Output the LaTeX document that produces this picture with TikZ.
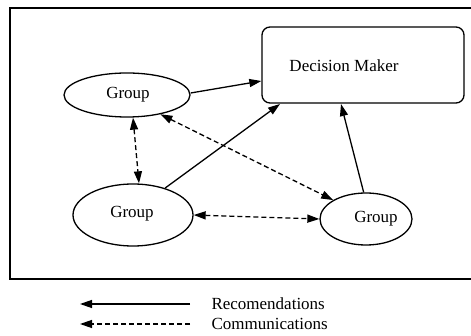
\documentclass[tikz,border=0pt]{standalone}
\usepackage{fontspec}
\setmainfont{Liberation Serif}
\usetikzlibrary{arrows.meta,shapes.geometric}
\begin{document}
\begin{tikzpicture}[x=1pt,y=-1pt,
  every node/.style={font=\fontsize{17}{20}\selectfont},
  grp/.style={draw,ellipse,line width=1.3pt,inner sep=0pt},
  rec/.style={line width=1.3pt,-{Triangle[length=12pt,width=8pt]}},
  com/.style={line width=1.3pt,dash pattern=on 5pt off 3pt,{Triangle[length=12pt,width=8pt]}-{Triangle[length=12pt,width=8pt]}},
  coml/.style={line width=1.3pt,dash pattern=on 5pt off 3pt,-{Triangle[length=12pt,width=8pt]}}]
\useasboundingbox (0,0) rectangle (471,336);
\draw[line width=1.5pt] (480,8) -- (10,8) -- (10,279) -- (480,279);
\node[draw,rounded corners=8pt,line width=1.3pt,minimum width=202pt,minimum height=76pt] (dm) at (363,65) {};
\node (dmt) at (344,66) {Decision Maker};
\node[grp,minimum width=126pt,minimum height=44pt] (g1) at (127,95) {};
\node (g1t) at (128,95) {Group};
\node[grp,minimum width=120pt,minimum height=62pt] (g2) at (133,215) {};
\node (g2t) at (132,214) {Group};
\node[grp,minimum width=92pt,minimum height=52pt] (g3) at (366,219) {};
\node (g3t) at (376,219) {Group};
\draw[rec] (g1.east) ++(0,-2) -- (dm.west |- 0,81);
\draw[rec] (g2.40) -- (280,104);
\draw[rec] (g3.95) -- (341,104);
\draw[com] (g1.-30) -- (g3.150);
\draw[com] (g1.south) ++(6,0) -- ([xshift=6pt]g2.north);
\draw[com] (g2.east) -- (g3.west);
\coordinate (l1a) at (190,304);
\coordinate (l1b) at (80,304);
\coordinate (l2a) at (190,324);
\coordinate (l2b) at (80,324);
\draw[rec] (l1a) -- (l1b);
\draw[coml] (l2a) -- (l2b);
\node[anchor=west] (t1) at (208,304) {Recomendations};
\node[anchor=west] (t2) at (208,324) {Communications};
\end{tikzpicture}
\end{document}
